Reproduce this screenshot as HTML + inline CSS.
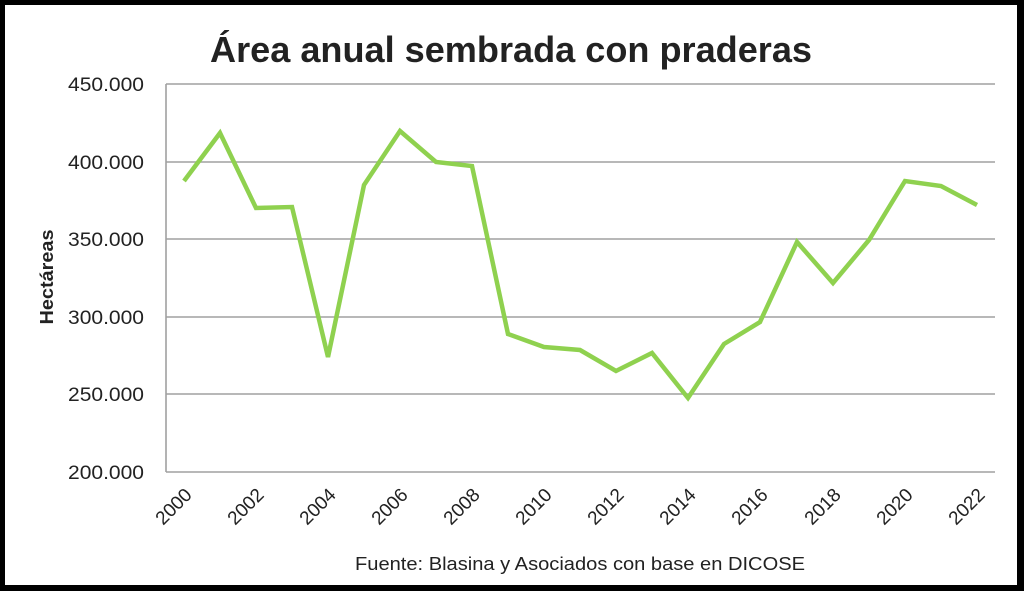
<!DOCTYPE html>
<html><head><meta charset="utf-8"><style>
html,body{margin:0;padding:0;background:#fff;}
svg{display:block;}
text{font-family:"Liberation Sans",sans-serif;fill:#222;}
</style></head><body>
<svg width="1024" height="591" viewBox="0 0 1024 591" xmlns="http://www.w3.org/2000/svg">
<rect x="0" y="0" width="1024" height="591" fill="#fff"/>
<rect x="2.5" y="2.5" width="1017" height="585" fill="none" stroke="#000" stroke-width="5"/>
<rect x="1018" y="0" width="6" height="591" fill="#000"/>
<rect x="0" y="588" width="1024" height="3" fill="#000"/>
<text x="210" y="62" font-size="36" font-weight="bold" fill="#111" textLength="602" lengthAdjust="spacingAndGlyphs">Área anual sembrada con praderas</text>
<g stroke="#a0a0a0" stroke-width="1.6">
<line x1="166" y1="84" x2="995" y2="84"/>
<line x1="166" y1="162" x2="995" y2="162"/>
<line x1="166" y1="239" x2="995" y2="239"/>
<line x1="166" y1="317" x2="995" y2="317"/>
<line x1="166" y1="394" x2="995" y2="394"/>
<line x1="166" y1="472" x2="995" y2="472"/>
<line x1="166" y1="84" x2="166" y2="472"/>
</g>
<g font-size="19" text-anchor="end">
<text x="144" y="91" textLength="76" lengthAdjust="spacingAndGlyphs">450.000</text>
<text x="144" y="169" textLength="76" lengthAdjust="spacingAndGlyphs">400.000</text>
<text x="144" y="246" textLength="76" lengthAdjust="spacingAndGlyphs">350.000</text>
<text x="144" y="324" textLength="76" lengthAdjust="spacingAndGlyphs">300.000</text>
<text x="144" y="401" textLength="76" lengthAdjust="spacingAndGlyphs">250.000</text>
<text x="144" y="479" textLength="76" lengthAdjust="spacingAndGlyphs">200.000</text>
</g>
<text transform="translate(53,277) rotate(-90)" font-size="18" font-weight="bold" text-anchor="middle" fill="#111" textLength="95" lengthAdjust="spacingAndGlyphs">Hectáreas</text>
<polyline fill="none" stroke="#8fd14f" stroke-width="4.5" stroke-linejoin="miter" points="184,181 220,133 256,208 292,207 328,357 364,185 400,131 436,162 472,166 508,334 544,347 580,350 616,371 652,353 688,398 724,344 760,322 797,242 833,283 869,240 905,181 941,186 977,205"/>
<g font-size="19">
<text transform="translate(193,496) rotate(-45)" text-anchor="end">2000</text>
<text transform="translate(265,496) rotate(-45)" text-anchor="end">2002</text>
<text transform="translate(337,496) rotate(-45)" text-anchor="end">2004</text>
<text transform="translate(409,496) rotate(-45)" text-anchor="end">2006</text>
<text transform="translate(481,496) rotate(-45)" text-anchor="end">2008</text>
<text transform="translate(553,496) rotate(-45)" text-anchor="end">2010</text>
<text transform="translate(625,496) rotate(-45)" text-anchor="end">2012</text>
<text transform="translate(697,496) rotate(-45)" text-anchor="end">2014</text>
<text transform="translate(769,496) rotate(-45)" text-anchor="end">2016</text>
<text transform="translate(842,496) rotate(-45)" text-anchor="end">2018</text>
<text transform="translate(914,496) rotate(-45)" text-anchor="end">2020</text>
<text transform="translate(986,496) rotate(-45)" text-anchor="end">2022</text>
</g>
<text x="355" y="570" font-size="18" textLength="450" lengthAdjust="spacingAndGlyphs">Fuente: Blasina y Asociados con base en DICOSE</text>
</svg>
</body></html>
